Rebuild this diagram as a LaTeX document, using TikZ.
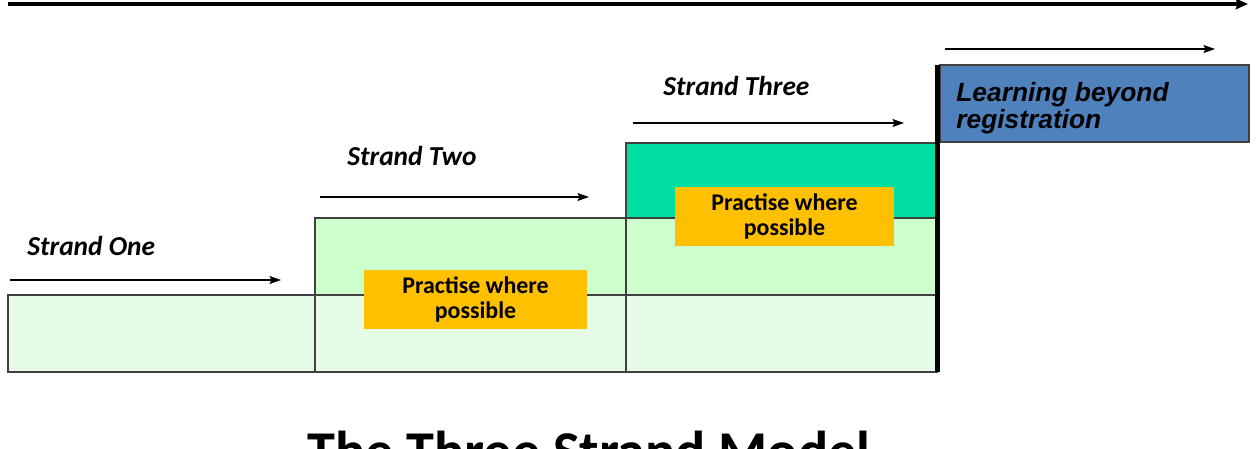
\documentclass[tikz,border=0pt]{standalone}
\usepackage{fontspec}
\setmainfont{Carlito}
\newfontfamily\arialfont{Liberation Sans}
\usetikzlibrary{arrows.meta}
\definecolor{paleband}{HTML}{E6FBE6}
\definecolor{midband}{HTML}{CCFFCC}
\definecolor{topband}{HTML}{00DFA2}
\definecolor{beyondblue}{HTML}{4F81BD}
\definecolor{practise}{HTML}{FFC000}
\begin{document}
\begin{tikzpicture}[
    x=0.02cm, y=-0.02cm,
    cell/.style={draw=black!75,line width=0.8pt},
    strand/.style={anchor=base west,inner sep=0pt,font=\bfseries\itshape\fontsize{15.6}{18}\selectfont},
    tag/.style={fill=practise,align=center,inner sep=0pt,minimum height=1.18cm,font=\bfseries\fontsize{13.6}{14}\selectfont},
    >={Stealth[length=6.5pt,width=4.5pt,inset=1pt]}
]
\clip (0,0) rectangle (1256,449);
\fill[white] (0,0) rectangle (1256,449);

\draw[cell,fill=paleband] (8,295) rectangle (315,372);
\draw[cell,fill=paleband] (315,295) rectangle (626,372);
\draw[cell,fill=paleband] (626,295) rectangle (937,372);
\draw[cell,fill=midband] (315,218) rectangle (626,295);
\draw[cell,fill=midband] (626,218) rectangle (937,295);
\draw[cell,fill=topband] (626,143) rectangle (937,218);
\draw[cell,fill=beyondblue] (940,65) rectangle (1249,142);
\draw[line width=2.8pt] (937.5,65) -- (937.5,372);

\node[tag,minimum width=4.46cm] (practiseone) at (475.5,299.5) {Practise where\\possible};
\node[tag,minimum width=4.38cm] (practisetwo) at (784.5,216.5) {Practise where\\possible};

\node[strand] (strandone) at (27,255) {Strand One};
\node[strand] (strandtwo) at (347,166) {Strand Two};
\node[strand] (strandthree) at (663,96) {Strand Three};
\node[anchor=north west,inner sep=0pt,align=left,font=\arialfont\bfseries\itshape\fontsize{15}{15.4}\selectfont] (beyond) at (956,82) {Learning beyond\\registration};

\coordinate (onestart) at (10,280);
\coordinate (oneend) at (281,280);
\coordinate (twostart) at (320,197);
\coordinate (twoend) at (589,197);
\coordinate (threestart) at (633,123);
\coordinate (threeend) at (904,123);
\coordinate (beyondstart) at (945,49);
\coordinate (beyondend) at (1215,49);
\coordinate (timestart) at (8,4);
\coordinate (timeend) at (1248,4);

\draw[->,line width=0.8pt] (onestart) -- (oneend);
\draw[->,line width=0.8pt] (twostart) -- (twoend);
\draw[->,line width=0.8pt] (threestart) -- (threeend);
\draw[->,line width=0.8pt] (beyondstart) -- (beyondend);
\draw[-{Stealth[length=7pt,width=6pt,inset=1pt]},line width=2.8pt] (timestart) -- (timeend);

\node[anchor=base,inner sep=0pt,font=\bfseries\fontsize{32}{36}\selectfont] (title) at (589,470) {The Three Strand Model};
\end{tikzpicture}
\end{document}
